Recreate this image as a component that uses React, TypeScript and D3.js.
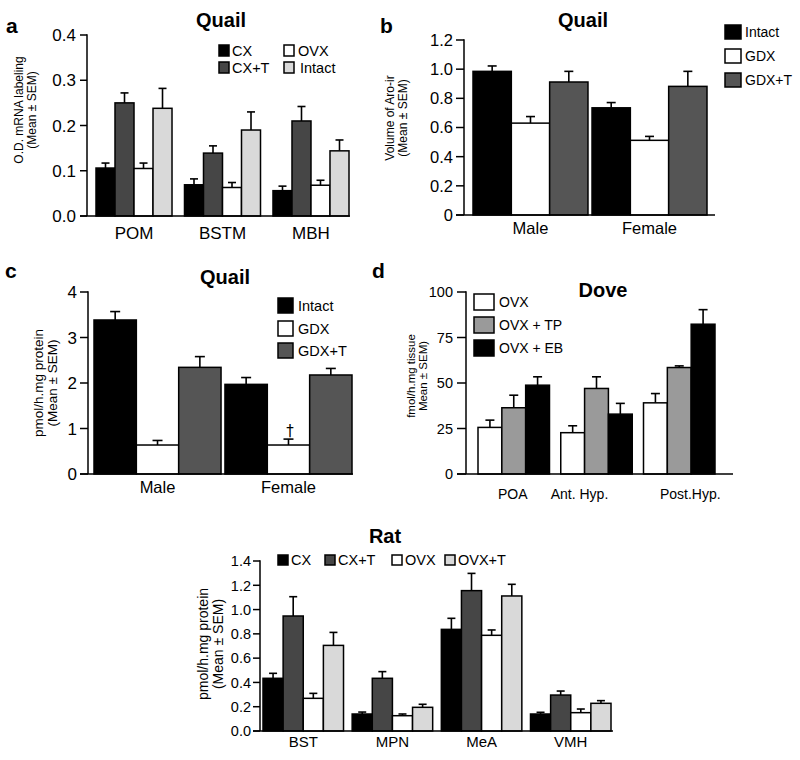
import React from "react";
import * as d3 from "d3";

const FONT = "'Liberation Sans', Arial, Helvetica, sans-serif";

// ---------- Panel a (Quail, mRNA) ----------
const aGroups = ["POM", "BSTM", "MBH"];
const aSeries = ["CX", "CX+T", "OVX", "Intact"];
const aMeans = [
  [0.106, 0.069, 0.056],
  [0.25, 0.139, 0.21],
  [0.105, 0.063, 0.068],
  [0.238, 0.19, 0.144],
];
const aErrs = [
  [0.011, 0.013, 0.01],
  [0.022, 0.016, 0.032],
  [0.012, 0.011, 0.011],
  [0.044, 0.04, 0.024],
];
const aTicks = [0, 0.1, 0.2, 0.3, 0.4];

// ---------- Panel b (Quail, Aro-ir volume) ----------
const bGroups = ["Male", "Female"];
const bSeries = ["Intact", "GDX", "GDX+T"];
const bMeans = [
  [0.985, 0.735],
  [0.63, 0.512],
  [0.912, 0.882],
];
const bErrs = [
  [0.037, 0.036],
  [0.045, 0.027],
  [0.073, 0.103],
];
const bTicks = [0, 0.2, 0.4, 0.6, 0.8, 1.0, 1.2];

// ---------- Panel c (Quail, activity) ----------
const cGroups = ["Male", "Female"];
const cSeries = ["Intact", "GDX", "GDX+T"];
const cMeans = [
  [3.385, 1.97],
  [0.637, 0.637],
  [2.344, 2.176],
];
const cErrs = [
  [0.185, 0.15],
  [0.1, 0.13],
  [0.236, 0.144],
];
const cTicks = [0, 1, 2, 3, 4];

// ---------- Panel d (Dove) ----------
const dGroups = ["POA", "Ant. Hyp.", "Post.Hyp."];
const dSeries = ["OVX", "OVX + TP", "OVX + EB"];
const dMeans = [
  [25.6, 22.7, 39.1],
  [36.4, 47.0, 58.5],
  [48.8, 32.9, 82.3],
];
const dErrs = [
  [4.0, 3.8, 5.1],
  [6.9, 6.4, 0.9],
  [4.6, 5.9, 8.0],
];
const dTicks = [0, 25, 50, 75, 100];

// ---------- Rat ----------
const rGroups = ["BST", "MPN", "MeA", "VMH"];
const rSeries = ["CX", "CX+T", "OVX", "OVX+T"];
const rMeans = [
  [0.434, 0.14, 0.837, 0.14],
  [0.947, 0.434, 1.156, 0.296],
  [0.269, 0.126, 0.788, 0.151],
  [0.705, 0.195, 1.112, 0.228],
];
const rErrs = [
  [0.041, 0.016, 0.091, 0.014],
  [0.159, 0.055, 0.142, 0.033],
  [0.041, 0.014, 0.044, 0.03],
  [0.107, 0.025, 0.096, 0.022],
];
const rTicks = [0, 0.2, 0.4, 0.6, 0.8, 1.0, 1.2, 1.4];

const BLACK = "#000000";
const DARK = "#464646";
const MID = "#9a9a9a";
const LIGHT = "#d9d9d9";
const WHITE = "#ffffff";

type PanelProps = {
  groups: string[];
  series: string[];
  means: number[][];
  errs: number[][];
  colors: string[];
  xRange: [number, number];
  pad: number;
  yRange: [number, number];
  yMax: number;
  ticks: number[];
  fmt: (v: number) => string;
  axisX: number;
  axisXEnd: number;
  tickLen: number;
  tickFont: number;
  tickGap: number;
  xLabelY: number;
  xLabelFont: number;
  labelNudge?: number[];
  capW: number;
};

function Panel(p: PanelProps) {
  const x = d3.scaleBand<string>().domain(p.groups).range(p.xRange).paddingInner(p.pad).paddingOuter(0);
  const xi = d3.scaleBand<string>().domain(p.series).range([0, x.bandwidth()]);
  const y = d3.scaleLinear().domain([0, p.yMax]).range(p.yRange);
  const bw = xi.bandwidth();
  return (
    <g>
      {p.series.map((s, si) =>
        p.groups.map((g, gi) => {
          const v = p.means[si][gi];
          const e = p.errs[si][gi];
          const bx = (x(g) as number) + (xi(s) as number);
          const cx = bx + bw / 2;
          return (
            <g key={s + g}>
              <line x1={cx} x2={cx} y1={y(v)} y2={y(v + e)} stroke="#000" strokeWidth={1.6} />
              <line x1={cx - p.capW / 2} x2={cx + p.capW / 2} y1={y(v + e)} y2={y(v + e)} stroke="#000" strokeWidth={1.6} />
              <rect x={bx} y={y(v)} width={bw} height={y(0) - y(v)} fill={p.colors[si]} stroke="#000" strokeWidth={1.5} />
            </g>
          );
        })
      )}
      <line x1={p.axisX} x2={p.axisX} y1={y(0)} y2={y(p.yMax) - 0.75} stroke="#000" strokeWidth={1.5} />
      <line x1={p.axisX - p.tickLen} x2={p.axisXEnd} y1={y(0)} y2={y(0)} stroke="#000" strokeWidth={1.5} />
      {p.ticks.map((t) => (
        <g key={t}>
          <line x1={p.axisX - p.tickLen} x2={p.axisX} y1={y(t)} y2={y(t)} stroke="#000" strokeWidth={1.5} />
          <text
            x={p.axisX - p.tickLen - p.tickGap}
            y={y(t)}
            dy="0.36em"
            textAnchor="end"
            fontSize={p.tickFont}
            fontFamily={FONT}
          >
            {p.fmt(t)}
          </text>
        </g>
      ))}
      {p.groups.map((g, gi) => (
        <text
          key={g}
          x={(x(g) as number) + x.bandwidth() / 2 + (p.labelNudge ? p.labelNudge[gi] : 0)}
          y={p.xLabelY}
          textAnchor="middle"
          fontSize={p.xLabelFont}
          fontFamily={FONT}
        >
          {g}
        </text>
      ))}
    </g>
  );
}

function YLabel({ x, y, lines, size, gap }: { x: number; y: number; lines: string[]; size: number; gap: number }) {
  return (
    <g transform={`translate(${x},${y}) rotate(-90)`}>
      {lines.map((l, i) => (
        <text key={i} x={0} y={i * gap} textAnchor="middle" dominantBaseline="central" fontSize={size} fontFamily={FONT}>
          {l}
        </text>
      ))}
    </g>
  );
}

function LegendItem({ x, y, w, h, fill, label, size, gap }: any) {
  return (
    <g>
      <rect x={x} y={y} width={w} height={h} fill={fill} stroke="#000" strokeWidth={1.5} />
      <text x={x + w + gap} y={y + h / 2} dy="0.36em" fontSize={size} fontFamily={FONT}>
        {label}
      </text>
    </g>
  );
}

const f1 = (v: number) => v.toFixed(1);
const fB = (v: number) => (v === 0 ? "0" : v.toFixed(1));
const fI = (v: number) => String(v);

export default function App() {
  const aColors = [BLACK, DARK, WHITE, LIGHT];
  const bColors = [BLACK, WHITE, "#555555"];
  const dColors = [WHITE, MID, BLACK];
  const rColors = [BLACK, DARK, WHITE, LIGHT];
  return (
    <svg width={800} height={760} style={{ position: "absolute", left: 0, top: 0, background: "#fff" }}>
      <rect x={0} y={0} width={800} height={760} fill="#fff" />

      <g fontFamily={FONT} fontWeight="bold" fontSize={21}>
        <text x={6} y={33}>a</text>
        <text x={380} y={33}>b</text>
        <text x={5} y={278}>c</text>
        <text x={372} y={278}>d</text>
      </g>

      <g fontFamily={FONT} fontWeight="bold" fontSize={20} textAnchor="middle">
        <text x={221} y={27}>Quail</text>
        <text x={583} y={27}>Quail</text>
        <text x={225} y={284}>Quail</text>
        <text x={603} y={297}>Dove</text>
        <text x={385} y={543}>Rat</text>
      </g>

      {/* Panel a */}
      <Panel
        groups={aGroups}
        series={aSeries}
        means={aMeans}
        errs={aErrs}
        colors={aColors}
        xRange={[96, 349]}
        pad={0.141}
        yRange={[216, 35]}
        yMax={0.4}
        ticks={aTicks}
        fmt={f1}
        axisX={87}
        axisXEnd={350}
        tickLen={7}
        tickFont={17}
        tickGap={4}
        xLabelY={239}
        xLabelFont={17}
        capW={8}
      />
      <YLabel x={19} y={110} lines={["O.D. mRNA labeling", "(Mean ± SEM)"]} size={12} gap={13} />
      <LegendItem x={219} y={45} w={10} h={11} fill={aColors[0]} label={aSeries[0]} size={14.5} gap={3} />
      <LegendItem x={219} y={62} w={10} h={11} fill={aColors[1]} label={aSeries[1]} size={14.5} gap={3} />
      <LegendItem x={284} y={45} w={10} h={11} fill={aColors[2]} label={aSeries[2]} size={14.5} gap={4} />
      <LegendItem x={284} y={62} w={10} h={11} fill={aColors[3]} label={aSeries[3]} size={14.5} gap={6} />

      {/* Panel b */}
      <Panel
        groups={bGroups}
        series={bSeries}
        means={bMeans}
        errs={bErrs}
        colors={bColors}
        xRange={[473, 707]}
        pad={0.034}
        yRange={[215, 40]}
        yMax={1.2}
        ticks={bTicks}
        fmt={fB}
        axisX={464}
        axisXEnd={715}
        tickLen={8}
        tickFont={16.5}
        tickGap={3}
        xLabelY={234}
        xLabelFont={16.5}
        capW={9}
      />
      <YLabel x={390} y={118} lines={["Volume of Aro-ir", "(Mean ± SEM)"]} size={12} gap={13} />
      <LegendItem x={725} y={25} w={16} h={14} fill={bColors[0]} label={bSeries[0]} size={14} gap={4} />
      <LegendItem x={725} y={49} w={16} h={14} fill={bColors[1]} label={bSeries[1]} size={14} gap={4} />
      <LegendItem x={725} y={73} w={16} h={14} fill={bColors[2]} label={bSeries[2]} size={14} gap={4} />

      {/* Panel c */}
      <Panel
        groups={cGroups}
        series={cSeries}
        means={cMeans}
        errs={cErrs}
        colors={bColors}
        xRange={[94, 352]}
        pad={0.03}
        yRange={[474, 292]}
        yMax={4}
        ticks={cTicks}
        fmt={fI}
        axisX={88}
        axisXEnd={353}
        tickLen={8}
        tickFont={17}
        tickGap={3}
        xLabelY={493}
        xLabelFont={16.5}
        capW={10}
      />
      <text x={290} y={436} textAnchor="middle" fontSize={15} fontFamily="'DejaVu Sans', sans-serif" fill="#000">†</text>
      <YLabel x={38} y={383} lines={["pmol/h.mg protein", "(Mean ± SEM)"]} size={13.5} gap={14.5} />
      <LegendItem x={278} y={298} w={15} h={15} fill={bColors[0]} label={cSeries[0]} size={14.5} gap={5} />
      <LegendItem x={278} y={321} w={15} h={15} fill={bColors[1]} label={cSeries[1]} size={14.5} gap={5} />
      <LegendItem x={278} y={343} w={15} h={15} fill={bColors[2]} label={cSeries[2]} size={14.5} gap={5} />

      {/* Panel d */}
      <Panel
        groups={dGroups}
        series={dSeries}
        means={dMeans}
        errs={dErrs}
        colors={dColors}
        xRange={[478, 715]}
        pad={0.136}
        yRange={[474, 292]}
        yMax={100}
        ticks={dTicks}
        fmt={fI}
        axisX={466}
        axisXEnd={733}
        tickLen={9}
        tickFont={14.5}
        tickGap={4}
        xLabelY={499}
        xLabelFont={14}
        labelNudge={[-1, -17, 11]}
        capW={9}
      />
      <YLabel x={411} y={376} lines={["fmol/h.mg tissue", "Mean ± SEM)"]} size={11.5} gap={11.5} />
      <LegendItem x={474} y={294} w={20} h={16} fill={dColors[0]} label={dSeries[0]} size={14} gap={5} />
      <LegendItem x={474} y={317} w={20} h={16} fill={dColors[1]} label={dSeries[1]} size={14} gap={5} />
      <LegendItem x={474} y={340} w={20} h={16} fill={dColors[2]} label={dSeries[2]} size={14} gap={5} />

      {/* Rat */}
      <Panel
        groups={rGroups}
        series={rSeries}
        means={rMeans}
        errs={rErrs}
        colors={rColors}
        xRange={[263, 611]}
        pad={0.097}
        yRange={[731, 561]}
        yMax={1.4}
        ticks={rTicks}
        fmt={f1}
        axisX={260}
        axisXEnd={613}
        tickLen={7}
        tickFont={14.5}
        tickGap={2}
        xLabelY={747}
        xLabelFont={15}
        capW={8}
      />
      <YLabel x={203} y={644} lines={["pmol/h.mg protein", "(Mean ± SEM)"]} size={14} gap={15} />
      <LegendItem x={278} y={555} w={10} h={10} fill={rColors[0]} label={rSeries[0]} size={14.5} gap={3} />
      <LegendItem x={325} y={555} w={10} h={10} fill={rColors[1]} label={rSeries[1]} size={14.5} gap={3} />
      <LegendItem x={392} y={555} w={10} h={10} fill={rColors[2]} label={rSeries[2]} size={14.5} gap={3} />
      <LegendItem x={445} y={555} w={10} h={10} fill={rColors[3]} label={rSeries[3]} size={14.5} gap={3} />
    </svg>
  );
}
